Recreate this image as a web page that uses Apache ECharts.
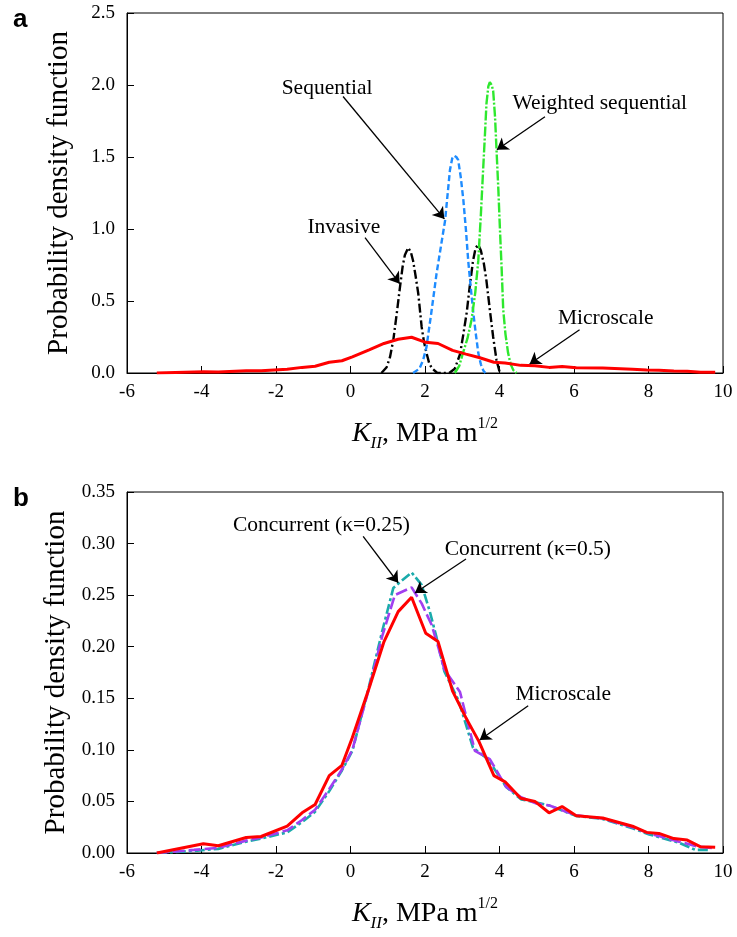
<!DOCTYPE html>
<html lang="en">
<head>
    <meta charset="utf-8">
    <title>K_II PDF</title>
    <script src="https://cdn.jsdelivr.net/npm/echarts@6/dist/echarts.min.js"></script>
    <style>
        html, body { margin: 0; padding: 0; background: #fff; }
        #main { width: 737px; height: 937px; }
    </style>
</head>
<body>
<div id="main"></div>

<script type="text/javascript">
    // x ticks shared by both panels
    var xTicks = [-6, -4, -2, 0, 2, 4, 6, 8, 10];
    var yTicksA = [0, 0.5, 1.0, 1.5, 2.0, 2.5];
    var yTicksB = [0, 0.05, 0.10, 0.15, 0.20, 0.25, 0.30, 0.35];

    // microscale (same curve in both panels)
    var microscale = [[-5.2,0],[-3.95,0.009],[-3.55,0.007],[-2.8,0.015],[-2.4,0.016],[-1.7,0.026],
        [-1.3,0.039],[-0.95,0.047],[-0.57,0.075],[-0.23,0.085],[0.05,0.112],[0.5,0.16],[0.9,0.205],
        [1.28,0.234],[1.64,0.248],[2.02,0.213],[2.35,0.205],[2.74,0.157],[3.1,0.131],[3.45,0.108],
        [3.85,0.075],[4.15,0.069],[4.57,0.053],[4.95,0.05],[5.33,0.039],[5.68,0.045],[6.06,0.036],
        [6.77,0.034],[7.57,0.026],[7.95,0.020],[8.28,0.019],[8.68,0.014],[9.04,0.0125],[9.4,0.006],
        [9.79,0.0055]];

    // panel a
    var invasive = [[0.83,0],[0.97,0.04],[1.06,0.11],[1.15,0.23],[1.24,0.41],[1.33,0.60],[1.40,0.74],
        [1.46,0.82],[1.55,0.87],[1.62,0.84],[1.68,0.78],[1.75,0.67],[1.82,0.55],[1.91,0.32],[1.97,0.22],
        [2.04,0.14],[2.11,0.07],[2.18,0.035],[2.33,0],[2.65,0],[2.80,0.03],[2.94,0.13],[3.03,0.27],
        [3.12,0.42],[3.20,0.60],[3.29,0.78],[3.36,0.87],[3.43,0.89],[3.50,0.85],[3.58,0.76],[3.65,0.64],
        [3.74,0.44],[3.83,0.25],[3.92,0.09],[4.00,0.01]];
    var sequential = [[1.68,0],[1.85,0.03],[1.95,0.09],[2.04,0.18],[2.17,0.42],[2.31,0.69],[2.44,0.90],
        [2.54,1.06],[2.61,1.25],[2.67,1.41],[2.73,1.49],[2.78,1.51],[2.84,1.50],[2.89,1.48],[2.96,1.36],
        [3.03,1.20],[3.10,0.99],[3.16,0.78],[3.23,0.59],[3.30,0.41],[3.37,0.26],[3.43,0.14],[3.50,0.06],
        [3.57,0.015],[3.62,0]];
    var weighted = [[2.80,0],[2.92,0.05],[3.02,0.14],[3.14,0.24],[3.25,0.37],[3.35,0.56],[3.43,0.78],
        [3.50,1.10],[3.56,1.41],[3.61,1.66],[3.65,1.87],[3.70,1.99],[3.74,2.02],[3.79,2.00],[3.83,1.96],
        [3.88,1.78],[3.92,1.55],[3.97,1.27],[4.01,1.01],[4.06,0.71],[4.10,0.44],[4.16,0.27],[4.23,0.14],
        [4.30,0.06],[4.37,0.02],[4.46,0]];

    // panel b
    var concurrent05 = [[-5.2,0],[-4.2,0.003],[-3.55,0.005],[-2.8,0.012],[-2.4,0.015],[-1.7,0.022],
        [-1.3,0.032],[-0.95,0.042],[-0.57,0.062],[-0.23,0.081],[0.05,0.1],[0.5,0.16],[0.85,0.21],
        [1.19,0.25],[1.64,0.2575],[1.91,0.242],[2.18,0.221],[2.36,0.199],[2.52,0.178],[2.94,0.156],
        [3.34,0.099],[3.74,0.091],[4.18,0.064],[4.58,0.054],[4.99,0.048],[5.34,0.046],[6.05,0.0366],
        [6.77,0.0334],[7.57,0.025],[8.02,0.019],[8.82,0.011],[9.35,0.006],[9.7,0.005]];
    var concurrent025 = [[-5.2,0],[-4.2,0.002],[-3.55,0.004],[-2.8,0.011],[-2.4,0.014],[-1.7,0.02],
        [-1.3,0.03],[-0.95,0.04],[-0.57,0.06],[-0.23,0.08],[0.05,0.099],[0.5,0.162],[0.85,0.215],
        [1.15,0.257],[1.31,0.262],[1.64,0.272],[1.91,0.26],[2.13,0.234],[2.31,0.209],[2.52,0.176],
        [2.9,0.148],[3.29,0.102],[3.69,0.091],[4.18,0.064],[4.58,0.052],[4.99,0.049],[5.34,0.046],
        [6.05,0.036],[6.77,0.033],[7.57,0.024],[8.02,0.018],[8.82,0.01],[9.26,0.003],[9.6,0.003]];

    // annotation texts [x, y, text] and arrows [from, to]
    var labelsA = [[-0.63,1.975,'Sequential'],[6.69,1.87,'Weighted sequential'],
        [-0.18,1.014,'Invasive'],[6.85,0.381,'Microscale']];
    var arrowsA = [[[-0.2,1.92],[2.52,1.07]],[[5.22,1.78],[3.93,1.55]],
        [[0.39,0.94],[1.32,0.62]],[[6.15,0.30],[4.81,0.062]]];
    var labelsB = [[-0.78,0.318,'Concurrent (\u03ba=0.25)'],[4.76,0.294,'Concurrent (\u03ba=0.5)'],
        [5.71,0.154,'Microscale']];
    var arrowsB = [[[0.34,0.307],[1.28,0.262]],[[3.10,0.285],[1.73,0.252]],
        [[4.77,0.1427],[3.47,0.1096]]];

    var serif = 'Liberation Serif';

    var xName = '{k|K}{sub|II}{n|, MPa m}{sup|1/2}';
    var xNameStyle = {
        fontFamily: serif, color: '#000',
        rich: {
            k: { fontFamily: serif, fontStyle: 'italic', fontSize: 28, lineHeight: 36, verticalAlign: 'middle', color: '#000' },
            sub: { fontFamily: serif, fontStyle: 'italic', fontSize: 17, lineHeight: 17, verticalAlign: 'bottom', color: '#000' },
            n: { fontFamily: serif, fontSize: 28, lineHeight: 36, verticalAlign: 'middle', color: '#000' },
            sup: { fontFamily: serif, fontSize: 16, lineHeight: 16, verticalAlign: 'top', color: '#000' }
        }
    };

    function xAxis(idx) {
        return {
            type: 'value', gridIndex: idx, min: -6, max: 10, interval: 2,
            name: xName, nameLocation: 'middle', nameGap: 43, nameTextStyle: xNameStyle,
            axisLine: { onZero: false, lineStyle: { color: '#000', width: 1 } },
            axisTick: { inside: true, length: 7, lineStyle: { color: '#000' } },
            axisLabel: { color: '#000', fontFamily: serif, fontSize: 19, margin: 10,
                customValues: xTicks },
            splitLine: { show: false }
        };
    }

    function yAxis(idx, ticks, digits) {
        return {
            type: 'value', gridIndex: idx, min: 0, max: ticks[ticks.length - 1],
            interval: ticks[1] - ticks[0],
            name: 'Probability density function', nameLocation: 'middle', nameGap: 53,
            nameTextStyle: { color: '#000', fontFamily: serif, fontSize: 29 },
            axisLine: { show: true, onZero: false, lineStyle: { color: '#000', width: 1 } },
            axisTick: { show: true, inside: true, length: 7, lineStyle: { color: '#000' } },
            axisLabel: { color: '#000', fontFamily: serif, fontSize: 19, margin: 12,
                formatter: function (v) { return v.toFixed(digits); } },
            splitLine: { show: false }
        };
    }

    function curve(idx, data, color, dash, width) {
        return {
            type: 'line', xAxisIndex: idx, yAxisIndex: idx, data: data,
            showSymbol: false, symbol: 'none', silent: true, z: 3,
            lineStyle: { color: color, width: width, type: dash }
        };
    }

    function notes(idx, labels, arrows) {
        return {
            type: 'scatter', xAxisIndex: idx, yAxisIndex: idx, symbolSize: 0, silent: true, z: 5,
            data: labels,
            label: { show: true, position: 'inside', color: '#000', fontFamily: serif, fontSize: 21.5,
                textBorderWidth: 0, textShadowBlur: 0, opacity: 1,
                formatter: function (p) { return p.data[2]; } },
            markLine: {
                silent: true, symbol: ['none', 'arrow'], symbolSize: 11,
                label: { show: false },
                lineStyle: { color: '#000', width: 1.3, type: 'solid', opacity: 1 },
                data: arrows.map(function (a) {
                    return [{ coord: a[0] }, { coord: a[1] }];
                })
            }
        };
    }

    var myChart = echarts.init(document.getElementById('main'), null, { renderer: 'canvas' });

    myChart.setOption({
        animation: false,
        backgroundColor: '#fff',
        title: [
            { text: 'a', left: 8, top: 2, textStyle: { fontFamily: 'Liberation Sans', fontWeight: 'bold', fontSize: 26, color: '#000' } },
            { text: 'b', left: 8, top: 481, textStyle: { fontFamily: 'Liberation Sans', fontWeight: 'bold', fontSize: 26, color: '#000' } }
        ],
        grid: [
            { left: 127, top: 13, width: 596, height: 360, show: true, borderColor: '#000', borderWidth: 1,
                outerBoundsMode: 'none' },
            { left: 127, top: 492, width: 596, height: 361, show: true, borderColor: '#000', borderWidth: 1,
                outerBoundsMode: 'none' }
        ],
        xAxis: [xAxis(0), xAxis(1)],
        yAxis: [yAxis(0, yTicksA, 1), yAxis(1, yTicksB, 2)],
        series: [
            curve(0, invasive, '#000000', [9, 3, 2, 3], 2.4),
            curve(0, sequential, '#1e8cff', [6, 3], 2.4),
            curve(0, weighted, '#2ee82e', [10, 2, 2, 2], 2.4),
            curve(0, microscale, '#ff0000', 'solid', 3),
            notes(0, labelsA, arrowsA),
            curve(1, concurrent025, '#1aabab', [10, 3, 3, 3], 2.6),
            curve(1, concurrent05, '#a040f0', [12, 4], 2.6),
            curve(1, microscale, '#ff0000', 'solid', 3),
            notes(1, labelsB, arrowsB)
        ]
    });
</script>
</body>
</html>
